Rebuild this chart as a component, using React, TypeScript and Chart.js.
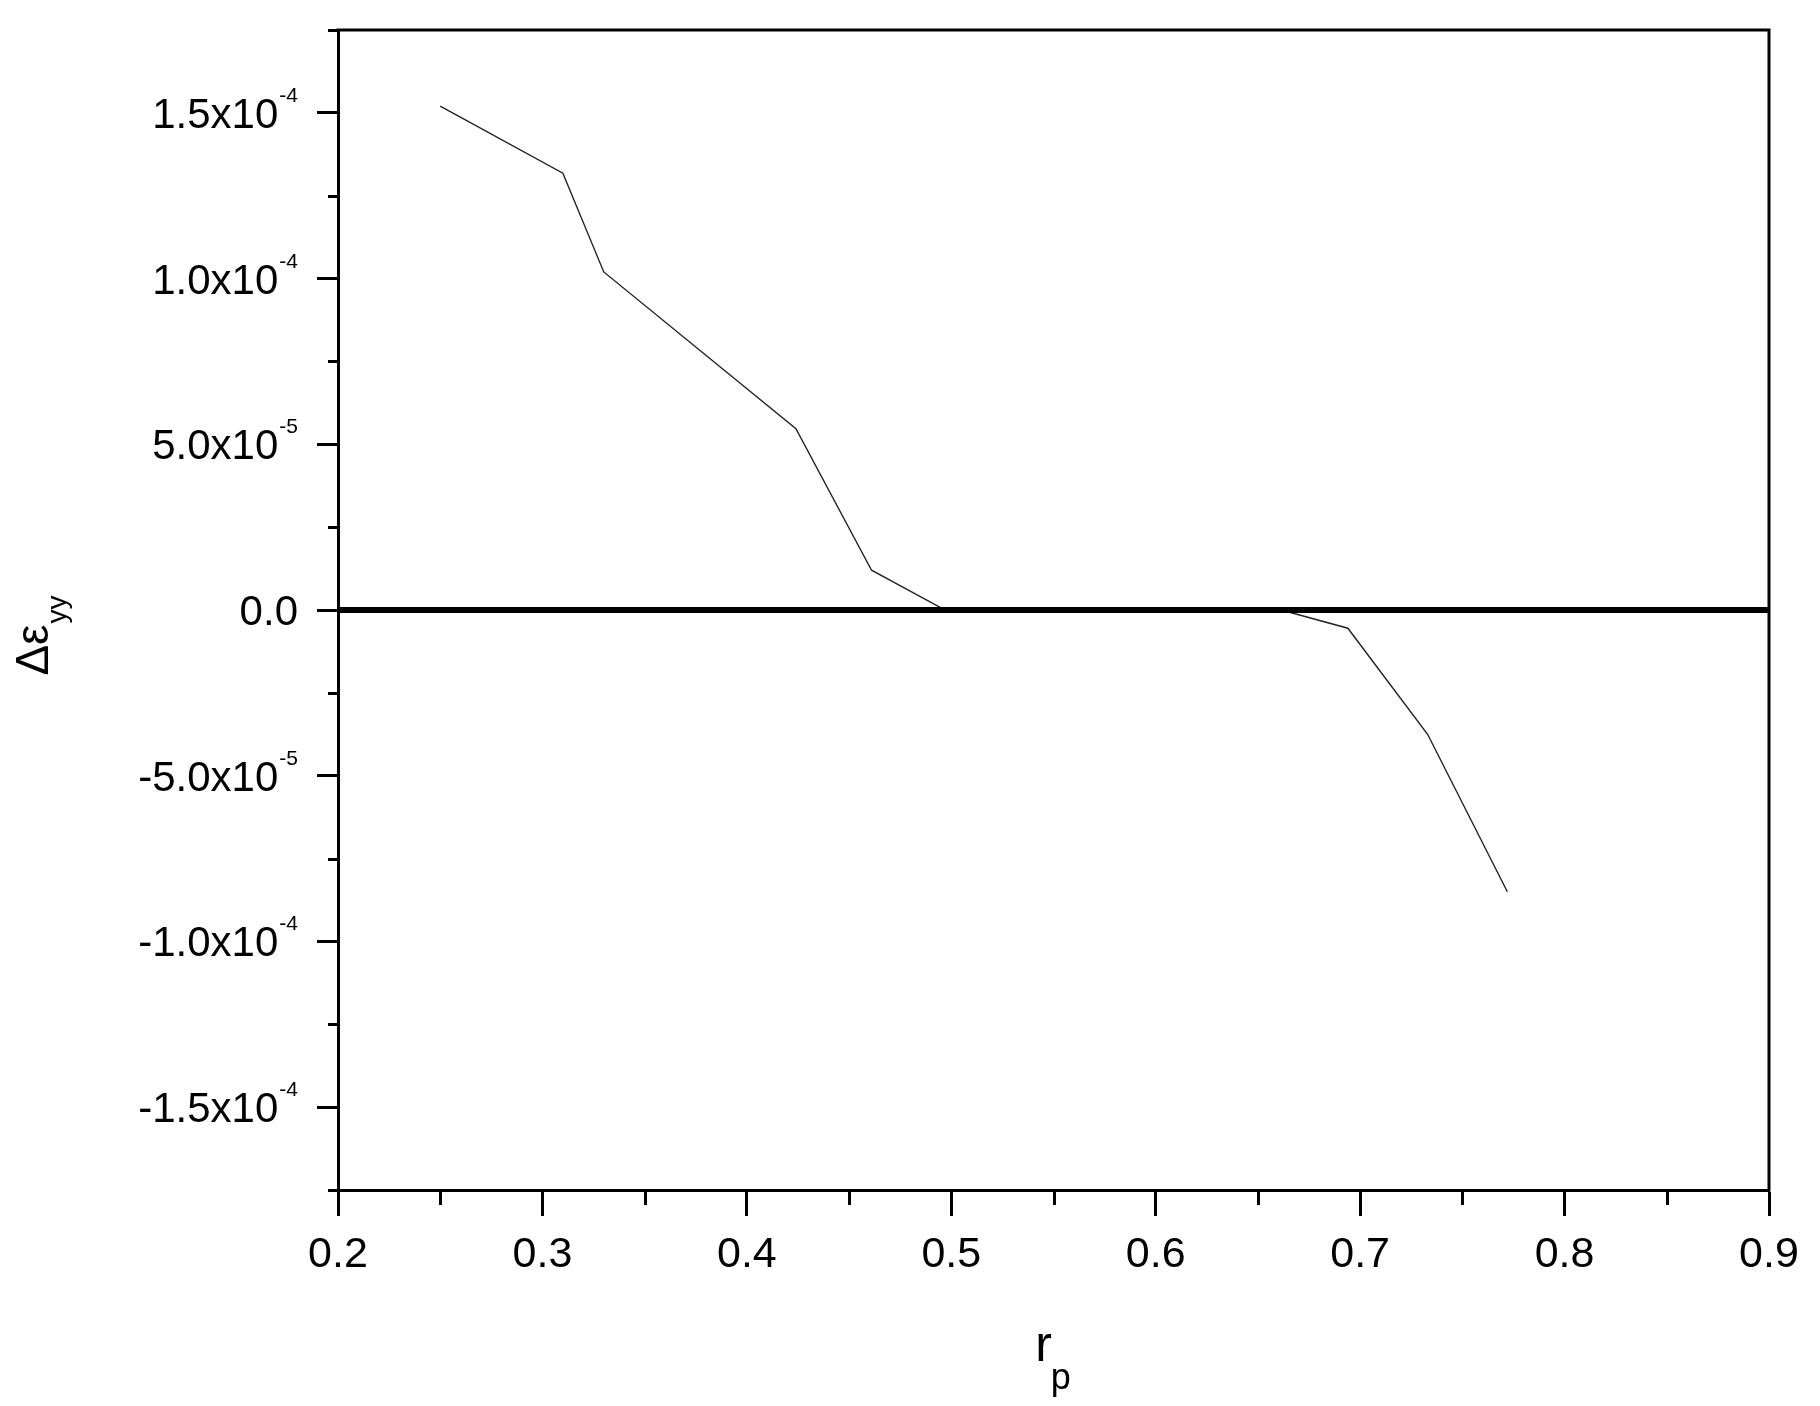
import React, { useEffect, useRef } from 'react';
import { Chart, registerables } from 'chart.js';

Chart.register(...registerables);

// ---- data ----
const rpValues = [0.25, 0.31, 0.33, 0.424, 0.461, 0.497, 0.665, 0.694, 0.733, 0.772];
const deltaEyyValues = [1.52e-4, 1.318e-4, 1.02e-4, 5.47e-5, 1.2e-5, 0, -0.6e-6, -5.5e-6, -3.75e-5, -8.5e-5];
const zeroRefX = [0.2, 0.9];
const zeroRefY = [0, 0];

// ---- axis ticks ----
const xMajorTicks = [0.2, 0.3, 0.4, 0.5, 0.6, 0.7, 0.8, 0.9];
const xTickLabels = ['0.2', '0.3', '0.4', '0.5', '0.6', '0.7', '0.8', '0.9'];
const xMinorTicks = [0.25, 0.35, 0.45, 0.55, 0.65, 0.75, 0.85];
const yMajorTicks = [1.5e-4, 1e-4, 5e-5, 0, -5e-5, -1e-4, -1.5e-4];
const yTickMantissas = ['1.5x10', '1.0x10', '5.0x10', '0.0', '-5.0x10', '-1.0x10', '-1.5x10'];
const yTickExponents = ['-4', '-4', '-5', '', '-5', '-4', '-4'];
const yMinorTicks = [1.75e-4, 1.25e-4, 7.5e-5, 2.5e-5, -2.5e-5, -7.5e-5, -1.25e-4, -1.75e-4];

const FONT = '"Liberation Sans", Arial, sans-serif';

const decorations = {
  id: 'decorations',
  afterDraw(chart: any) {
    const { ctx, chartArea: a, scales } = chart;
    const xs = scales.x;
    const ys = scales.y;
    ctx.save();
    ctx.strokeStyle = '#000';
    ctx.fillStyle = '#000';
    ctx.lineWidth = 3;
    ctx.lineCap = 'butt';

    // top and right frame
    ctx.beginPath();
    ctx.moveTo(a.left - 1.5, a.top);
    ctx.lineTo(a.right, a.top);
    ctx.lineTo(a.right, a.bottom + 1.5);
    ctx.stroke();

    // minor ticks
    ctx.beginPath();
    xMinorTicks.forEach((v) => {
      const px = Math.round(xs.getPixelForValue(v)) + 0.5;
      ctx.moveTo(px, a.bottom);
      ctx.lineTo(px, a.bottom + 15);
    });
    yMinorTicks.forEach((v) => {
      const py = Math.round(ys.getPixelForValue(v)) + 0.5;
      ctx.moveTo(a.left, py);
      ctx.lineTo(a.left - 10, py);
    });
    ctx.stroke();

    // x tick labels
    ctx.font = '43px ' + FONT;
    ctx.textAlign = 'center';
    ctx.textBaseline = 'alphabetic';
    xMajorTicks.forEach((v, i) => {
      ctx.fillText(xTickLabels[i], xs.getPixelForValue(v), a.bottom + 77);
    });

    // y tick labels with superscript exponent
    const rightEdge = a.left - 40;
    yMajorTicks.forEach((v, i) => {
      const py = ys.getPixelForValue(v);
      ctx.textAlign = 'right';
      let mainRight = rightEdge;
      if (yTickExponents[i]) {
        ctx.font = '21px ' + FONT;
        const w = ctx.measureText(yTickExponents[i]).width;
        ctx.fillText(yTickExponents[i], rightEdge, py - 11);
        mainRight = rightEdge - w - 1;
      }
      ctx.font = '42px ' + FONT;
      ctx.fillText(yTickMantissas[i], mainRight, py + 15);
    });

    // y title: Δε_yy rotated
    ctx.save();
    ctx.font = '46px ' + FONT;
    const mainW = ctx.measureText('Δε').width;
    ctx.font = '28px ' + FONT;
    const subW = ctx.measureText('yy').width;
    const totalW = mainW + subW;
    const cy = (a.top + a.bottom) / 2 + 26;
    ctx.translate(48, cy + totalW / 2);
    ctx.rotate(-Math.PI / 2);
    ctx.textAlign = 'left';
    ctx.font = '46px ' + FONT;
    ctx.fillText('Δε', 0, 0);
    ctx.font = '28px ' + FONT;
    ctx.fillText('yy', mainW + 1, 18);
    ctx.restore();

    // x title: r_p
    const cx = (a.left + a.right) / 2;
    ctx.textAlign = 'left';
    ctx.font = '50px ' + FONT;
    const rW = ctx.measureText('r').width;
    ctx.font = '36px ' + FONT;
    const pW = ctx.measureText('p').width;
    const startX = cx - (rW + pW) / 2;
    ctx.font = '50px ' + FONT;
    ctx.fillText('r', startX, a.bottom + 171);
    ctx.font = '36px ' + FONT;
    ctx.fillText('p', startX + rW - 1, a.bottom + 199);

    ctx.restore();
  },
};

export default function App() {
  const canvasRef = useRef<HTMLCanvasElement | null>(null);

  useEffect(() => {
    const canvas = canvasRef.current;
    if (!canvas) return;
    const chart = new Chart(canvas, {
      type: 'line',
      data: {
        datasets: [
          {
            label: 'zero',
            data: zeroRefX.map((x, i) => ({ x, y: zeroRefY[i] })),
            borderColor: '#000',
            borderWidth: 6,
            pointRadius: 0,
            fill: false,
          },
          {
            label: 'delta',
            data: rpValues.map((x, i) => ({ x, y: deltaEyyValues[i] })),
            borderColor: '#222',
            borderWidth: 1.4,
            pointRadius: 0,
            fill: false,
            tension: 0,
          },
        ],
      },
      options: {
        animation: false,
        responsive: false,
        devicePixelRatio: 1,
        layout: { padding: { left: 0, top: 30, right: 51, bottom: 0 } },
        plugins: {
          legend: { display: false },
          tooltip: { enabled: false },
        },
        scales: {
          x: {
            type: 'linear',
            min: 0.2,
            max: 0.9,
            afterBuildTicks: (scale: any) => {
              scale.ticks = xMajorTicks.map((v) => ({ value: v }));
            },
            afterFit: (scale: any) => {
              scale.height = 216;
            },
            ticks: { display: false },
            grid: {
              display: true,
              drawOnChartArea: false,
              drawTicks: true,
              tickLength: 26,
              tickWidth: 3,
              tickColor: '#000',
            },
            border: { display: true, color: '#000', width: 3 },
          },
          y: {
            type: 'linear',
            min: -1.75e-4,
            max: 1.75e-4,
            afterBuildTicks: (scale: any) => {
              scale.ticks = yMajorTicks.map((v) => ({ value: v }));
            },
            afterFit: (scale: any) => {
              scale.width = 338;
            },
            ticks: { display: false },
            grid: {
              display: true,
              drawOnChartArea: false,
              drawTicks: true,
              tickLength: 21,
              tickWidth: 3,
              tickColor: '#000',
            },
            border: { display: true, color: '#000', width: 3 },
          },
        },
      },
      plugins: [decorations],
    });
    return () => chart.destroy();
  }, []);

  return (
    <div style={{ position: 'absolute', left: 0, top: 0, width: 1820, height: 1406, background: '#fff' }}>
      <canvas ref={canvasRef} width={1820} height={1406} style={{ display: 'block' }} />
    </div>
  );
}
